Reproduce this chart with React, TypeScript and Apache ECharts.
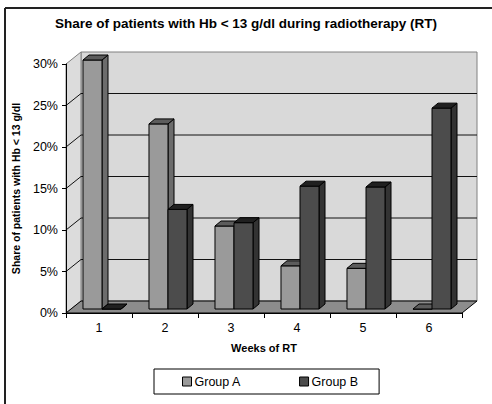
import React, { useEffect, useRef } from "react";
import * as echarts from "echarts";

const weeks = ["1", "2", "3", "4", "5", "6"];
const groupA = [30.0, 22.3, 10.0, 5.2, 4.9, 0];
const groupB = [0, 12.0, 10.4, 14.8, 14.7, 24.2];
const yMin = 0;
const yMax = 30;
const yStep = 5;

const FONT = "'Liberation Sans', Arial, Helvetica, sans-serif";

// 3D geometry
const DX = 15, DY = -12; // wall depth
const BDX = 6, BDY = -5; // bar depth
const FX = 3, FY = -4; // bar front offset from the front plane

const COLORS = {
  A: { front: "#9a9a9a", side: "#6c6c6c", top: "#5c5c5c" },
  B: { front: "#4c4c4c", side: "#333333", top: "#202020" },
};

function makeBarRender(k: number, c: { front: string; side: string; top: string }) {
  return (params: any, api: any) => {
    const idx = api.value(0);
    const v = api.value(1);
    const top = api.coord([idx, v]);
    const base = api.coord([idx, 0]);
    const band = api.size([1, 0])[0];
    const w = band * 0.288;
    const left = base[0] - w + k * w + FX;
    const by = base[1] + FY;
    const ty = top[1] + FY;
    const st = { stroke: "#000", lineWidth: 1 };
    return {
      type: "group",
      children: [
        {
          type: "polygon",
          shape: {
            points: [
              [left + w, ty],
              [left + w + BDX, ty + BDY],
              [left + w + BDX, by + BDY],
              [left + w, by],
            ],
          },
          style: { fill: c.side, ...st },
        },
        {
          type: "rect",
          shape: { x: left, y: ty, width: w, height: by - ty },
          style: { fill: c.front, ...st },
        },
        {
          type: "polygon",
          shape: {
            points: [
              [left, ty],
              [left + BDX, ty + BDY],
              [left + w + BDX, ty + BDY],
              [left + w, ty],
            ],
          },
          style: { fill: c.top, ...st },
        },
      ],
    };
  };
}

function wallsRender(params: any, api: any) {
  const cs = params.coordSys;
  const x0 = cs.x;
  const x1 = cs.x + cs.width;
  const yb = api.coord([0, yMin])[1];
  const yt = api.coord([0, yMax])[1];
  const children: any[] = [];
  // back wall
  children.push({
    type: "polygon",
    shape: { points: [[x0 + DX, yt + DY], [x1 + DX, yt + DY], [x1 + DX, yb + DY], [x0 + DX, yb + DY]] },
    style: { fill: "#d9d9d9", stroke: "#808080", lineWidth: 1 },
  });
  // left wall
  children.push({
    type: "polygon",
    shape: { points: [[x0, yt], [x0 + DX, yt + DY], [x0 + DX, yb + DY], [x0, yb]] },
    style: { fill: "#dcdcdc", stroke: "#808080", lineWidth: 1 },
  });
  // floor
  children.push({
    type: "polygon",
    shape: { points: [[x0, yb], [x1, yb], [x1 + DX, yb + DY], [x0 + DX, yb + DY]] },
    style: { fill: "#8c8c8c", stroke: "#000", lineWidth: 1 },
  });
  // grid lines
  for (let v = yMin + yStep; v < yMax; v += yStep) {
    const y = api.coord([0, v])[1];
    children.push({
      type: "line",
      shape: { x1: x0 + DX, y1: y + DY, x2: x1 + DX, y2: y + DY },
      style: { stroke: "#111", lineWidth: 1 },
    });
    children.push({
      type: "line",
      shape: { x1: x0, y1: y, x2: x0 + DX, y2: y + DY },
      style: { stroke: "#111", lineWidth: 1 },
    });
  }
  return { type: "group", children };
}

export default function App() {
  const ref = useRef<HTMLDivElement>(null);
  useEffect(() => {
    if (!ref.current) return;
    const chart = echarts.init(ref.current, undefined, { renderer: "svg" });
    chart.setOption({
      animation: false,
      backgroundColor: "#ffffff",
      textStyle: { fontFamily: FONT, color: "#000" },
      title: {
        text: "Share of patients with Hb < 13 g/dl during radiotherapy (RT)",
        left: "center",
        top: 11,
        textStyle: { fontFamily: FONT, fontSize: 13.5, fontWeight: "bold", color: "#000" },
      },
      graphic: [
        { type: "line", shape: { x1: 5, y1: 8, x2: 492, y2: 8 }, style: { stroke: "#222", lineWidth: 2 } },
        { type: "line", shape: { x1: 5, y1: 8, x2: 5, y2: 404 }, style: { stroke: "#222", lineWidth: 2 } },
      ],
      legend: {
        data: ["Group A", "Group B"],
        left: 154,
        top: 369,
        orient: "horizontal",
        icon: "rect",
        itemWidth: 9,
        itemHeight: 9,
        itemGap: 58,
        padding: [6, 21, 6, 28],
        borderColor: "#000",
        borderWidth: 1,
        itemStyle: { borderColor: "#000", borderWidth: 1 },
        textStyle: { fontFamily: FONT, fontSize: 12.5, color: "#000", padding: [0, 0, 0, -2] },
      },
      grid: { left: 66, right: 30, top: 64, bottom: 91 },
      xAxis: {
        type: "category",
        data: weeks,
        boundaryGap: true,
        z: 5,
        name: "Weeks of RT",
        nameLocation: "middle",
        nameGap: 29,
        nameTextStyle: { fontFamily: FONT, fontSize: 11, fontWeight: "bold", color: "#000" },
        axisLine: { lineStyle: { color: "#000", width: 1 } },
        axisTick: { show: true, length: 5, lineStyle: { color: "#000" } },
        axisLabel: { margin: 8, fontSize: 12.5, color: "#000", fontFamily: FONT },
        splitLine: { show: false },
      },
      yAxis: {
        type: "value",
        min: yMin,
        max: yMax,
        interval: yStep,
        z: 5,
        name: "Share of patients with Hb < 13 g/dl",
        nameLocation: "middle",
        nameGap: 45,
        nameTextStyle: { fontFamily: FONT, fontSize: 10.5, fontWeight: "bold", color: "#000" },
        axisLine: { show: true, lineStyle: { color: "#000", width: 1 } },
        axisTick: { show: true, length: 4, lineStyle: { color: "#000" } },
        axisLabel: { margin: 8, fontSize: 12.5, color: "#000", fontFamily: FONT, formatter: "{value}%" },
        splitLine: { show: false },
      },
      series: [
        {
          name: "walls",
          type: "custom",
          z: 1,
          silent: true,
          renderItem: wallsRender,
          data: [[0, 0]],
          encode: { x: 0, y: 1 },
        },
        {
          name: "Group A",
          type: "custom",
          z: 2,
          itemStyle: { color: COLORS.A.front },
          renderItem: makeBarRender(0, COLORS.A),
          data: groupA.map((v, i) => [i, v]),
          encode: { x: 0, y: 1 },
        },
        {
          name: "Group B",
          type: "custom",
          z: 3,
          itemStyle: { color: COLORS.B.front },
          renderItem: makeBarRender(1, COLORS.B),
          data: groupB.map((v, i) => [i, v]),
          encode: { x: 0, y: 1 },
        },
      ],
    });
    return () => chart.dispose();
  }, []);
  return (
    <div
      ref={ref}
      style={{ position: "absolute", left: 0, top: 0, width: 492, height: 404 }}
    />
  );
}
